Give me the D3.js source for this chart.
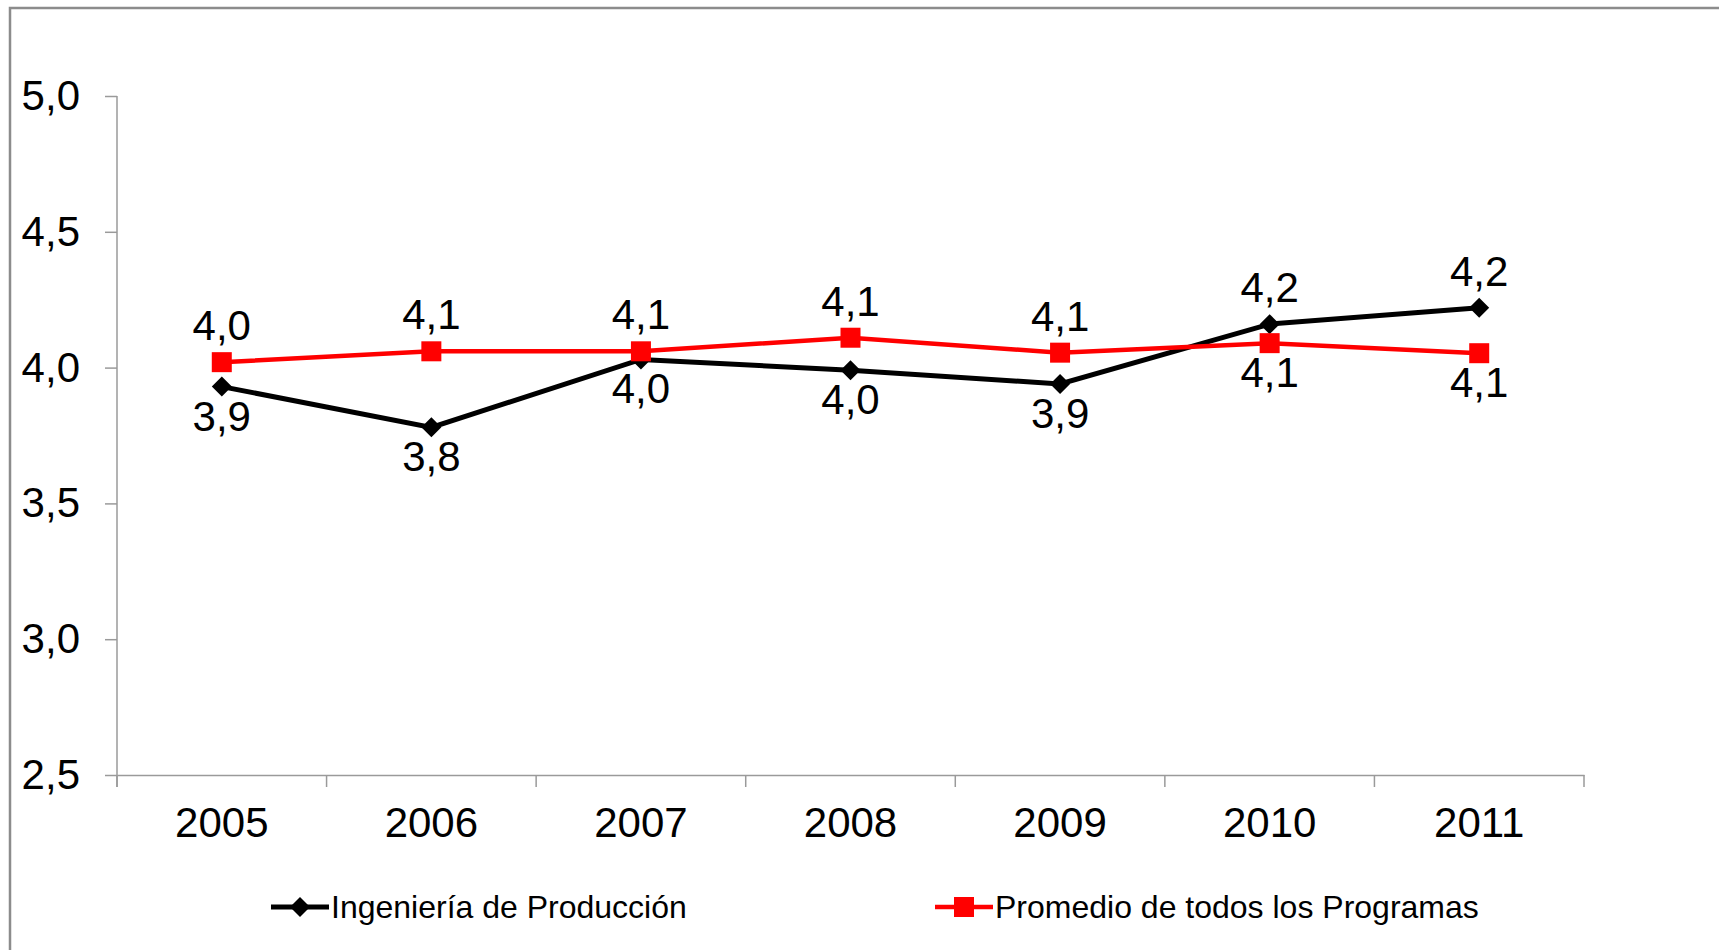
<!DOCTYPE html>
<html>
<head>
<meta charset="utf-8">
<script src="https://cdnjs.cloudflare.com/ajax/libs/d3/7.8.5/d3.min.js"></script>
<style>
  body { margin: 0; background: #fff; }
  text { font-family: Arial, 'Liberation Sans', sans-serif; fill: #000; }
  .eje path, .eje line { stroke: #9a9a9a; stroke-width: 1.5px; }
</style>
</head>
<body>
<div id="graf"></div>
<script>
// I. Datos
anios = ['2005', '2006', '2007', '2008', '2009', '2010', '2011']
ingenieria = [3.93, 3.78, 4.03, 3.99, 3.94, 4.16, 4.22]
promedio = [4.02, 4.06, 4.06, 4.11, 4.055, 4.09, 4.053]
yTicks = [2.5, 3.0, 3.5, 4.0, 4.5, 5.0]
nombres = ['Ingeniería de Producción', 'Promedio de todos los Programas']
// etiqueta arriba (true) o abajo (false) de cada punto
ingArriba = [false, false, false, false, false, true, true]
promArriba = [true, true, true, true, true, false, false]

// II. Configuracion
ancho_total = 1719
alto_total = 950
margins = { top: 96, left: 117, right: 135, bottom: 175 }

locale = d3.formatLocale({ decimal: ',', thousands: '.', grouping: [3], currency: ['$', ''] })
fmt = locale.format('.1f')

svg = d3.select('#graf').append('svg')
        .attr('width', ancho_total)
        .attr('height', alto_total)

// marco del grafico
svg.append('rect')
    .attr('x', 10).attr('y', 8)
    .attr('width', ancho_total + 20).attr('height', alto_total + 20)
    .attr('fill', 'none')
    .attr('stroke', '#8c8c8c')
    .attr('stroke-width', 2.5)

x = d3.scaleBand()
        .domain(anios)
        .range([margins.left, ancho_total - margins.right])

y = d3.scaleLinear()
        .domain([2.5, 5])
        .range([alto_total - margins.bottom, margins.top])

// III. Ejes
yAxisCall = d3.axisLeft(y)
            .tickValues(yTicks)
            .tickFormat(fmt)
            .tickSizeInner(12)
            .tickSizeOuter(0)
yAxisGroup = svg.append('g')
        .attr('class', 'eje')
        .attr('transform', `translate(${margins.left}, 0)`)
        .call(yAxisCall)
yAxisGroup.selectAll('text')
        .attr('x', -37)
        .style('font-size', '42px')
// prolongar el eje y hasta las marcas del eje x
yAxisGroup.select('.domain')
        .attr('d', `M0,${y(5)}V${y(2.5) + 12}`)

xAxisCall = d3.axisBottom(x)
            .tickSize(0)
            .tickSizeOuter(0)
xAxisGroup = svg.append('g')
        .attr('class', 'eje')
        .attr('transform', `translate(0, ${y(2.5)})`)
        .call(xAxisCall)
xAxisGroup.selectAll('text')
        .attr('y', 62)
        .attr('dy', 0)
        .style('font-size', '42px')

// marcas entre categorias
xAxisGroup.selectAll('.sep')
        .data(anios.concat(['fin']))
        .enter().append('line')
        .attr('class', 'sep')
        .attr('x1', (d, i) => x.range()[0] + i * x.step())
        .attr('x2', (d, i) => x.range()[0] + i * x.step())
        .attr('y1', 0)
        .attr('y2', 12)

// IV. Series
cx = d => x(d) + x.bandwidth() / 2

linea = d3.line()
        .x((d, i) => cx(anios[i]))
        .y(d => y(d))

svg.append('path')
    .datum(ingenieria)
    .attr('d', linea)
    .attr('fill', 'none')
    .attr('stroke', '#000')
    .attr('stroke-width', 5)

svg.append('path')
    .datum(promedio)
    .attr('d', linea)
    .attr('fill', 'none')
    .attr('stroke', '#ff0000')
    .attr('stroke-width', 4.5)

diamante = d3.symbol().type(d3.symbolSquare).size(200)

svg.selectAll('.diam')
    .data(ingenieria)
    .enter().append('path')
    .attr('class', 'diam')
    .attr('d', diamante)
    .attr('transform', (d, i) => `translate(${cx(anios[i])}, ${y(d)}) rotate(45)`)
    .attr('fill', '#000')

svg.selectAll('.cuad')
    .data(promedio)
    .enter().append('rect')
    .attr('class', 'cuad')
    .attr('x', (d, i) => cx(anios[i]) - 10)
    .attr('y', d => y(d) - 10)
    .attr('width', 20)
    .attr('height', 20)
    .attr('fill', '#ff0000')

// V. Etiquetas de datos
function etiquetas(datos, arriba, clase) {
    svg.selectAll('.' + clase)
        .data(datos)
        .enter().append('text')
        .attr('class', clase)
        .attr('x', (d, i) => cx(anios[i]))
        .attr('y', (d, i) => y(d) + (arriba[i] ? -22 : 44))
        .attr('text-anchor', 'middle')
        .style('font-size', '42px')
        .text(d => fmt(d))
}
etiquetas(ingenieria, ingArriba, 'et-ing')
etiquetas(promedio, promArriba, 'et-prom')

// VI. Leyenda
leyenda = svg.append('g')
        .attr('transform', 'translate(0, 907)')

ley1 = leyenda.append('g').attr('transform', 'translate(271, 0)')
ley1.append('line')
    .attr('x1', 0).attr('x2', 58)
    .attr('stroke', '#000').attr('stroke-width', 5)
ley1.append('path')
    .attr('d', diamante)
    .attr('transform', 'translate(29, 0) rotate(45)')
ley1.append('text')
    .attr('x', 60).attr('y', 11)
    .style('font-size', '32px')
    .text(nombres[0])

ley2 = leyenda.append('g').attr('transform', 'translate(935, 0)')
ley2.append('line')
    .attr('x1', 0).attr('x2', 58)
    .attr('stroke', '#ff0000').attr('stroke-width', 4.5)
ley2.append('rect')
    .attr('x', 19).attr('y', -10)
    .attr('width', 20).attr('height', 20)
    .attr('fill', '#ff0000')
ley2.append('text')
    .attr('x', 60).attr('y', 11)
    .style('font-size', '32px')
    .text(nombres[1])
</script>
</body>
</html>
